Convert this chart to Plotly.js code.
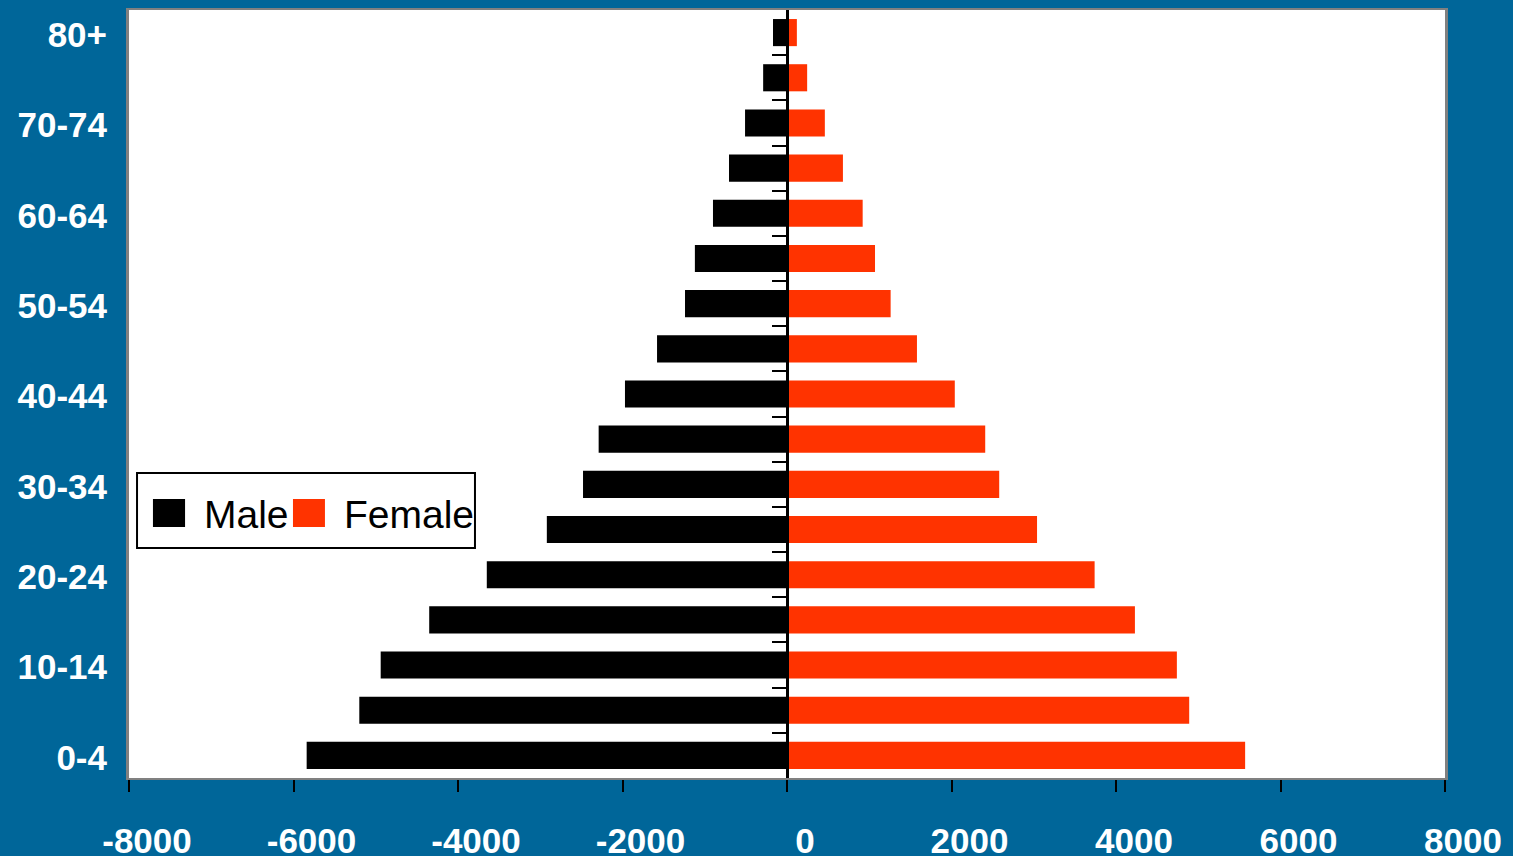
<!DOCTYPE html>
<html>
<head>
<meta charset="utf-8">
<script src="https://cdn.plot.ly/plotly-3.0.1.min.js"></script>
<style>
html,body{margin:0;padding:0;background:#006699;}
#chart{width:1513px;height:856px;}
</style>
</head>
<body>
<div id="chart"></div>
<script>
// Data
const ageGroups = ["0-4","5-9","10-14","15-19","20-24","25-29","30-34","35-39","40-44","45-49","50-54","55-59","60-64","65-69","70-74","75-79","80+"];
const maleValues = [5840, 5200, 4940, 4350, 3650, 2920, 2480, 2290, 1970, 1580, 1240, 1120, 900, 705, 510, 290, 170];
const femaleValues = [5570, 4890, 4740, 4230, 3740, 3040, 2580, 2410, 2040, 1580, 1260, 1070, 920, 680, 460, 245, 120];
const seriesNames = ["Male", "Female"];
const xTickValues = [-8000, -6000, -4000, -2000, 0, 2000, 4000, 6000, 8000];

const colors = ["#000000", "#FF3300"];
const fontFam = "'Liberation Sans', Arial, sans-serif";

const traces = [
  {
    type: "bar", orientation: "h", name: seriesNames[0],
    y: ageGroups, x: maleValues.map(v => -v),
    customdata: maleValues,
    hovertemplate: "%{y}: %{customdata}<extra>" + seriesNames[0] + "</extra>",
    marker: {color: colors[0]}, width: 0.6, showlegend: false
  },
  {
    type: "bar", orientation: "h", name: seriesNames[1],
    y: ageGroups, x: femaleValues,
    hovertemplate: "%{y}: %{x}<extra>" + seriesNames[1] + "</extra>",
    marker: {color: colors[1]}, width: 0.6, showlegend: false
  },
  // empty helper trace so the central axis (yaxis2) gets drawn
  {type: "scatter", mode: "markers", x: [], y: [], yaxis: "y2",
   hoverinfo: "skip", showlegend: false}
];

// manual legend (paper coords)
const L = {x0: 0.0061, x1: 0.2629, y0: 0.2995, y1: 0.3971};
const shapes = [
  {type: "rect", xref: "paper", yref: "paper", x0: L.x0, x1: L.x1, y0: L.y0, y1: L.y1,
   line: {color: "#000", width: 2}, fillcolor: "#fff", layer: "above"},
  {type: "rect", xref: "paper", yref: "paper", x0: 0.0182, x1: 0.0426, y0: 0.3268, y1: 0.3633,
   line: {width: 0}, fillcolor: colors[0], layer: "above"},
  {type: "rect", xref: "paper", yref: "paper", x0: 0.1246, x1: 0.1489, y0: 0.3268, y1: 0.3633,
   line: {width: 0}, fillcolor: colors[1], layer: "above"}
];
const annotations = [
  {xref: "paper", yref: "paper", x: 0.0555, y: 0.3430, xanchor: "left", yanchor: "middle",
   text: seriesNames[0], showarrow: false, font: {family: fontFam, size: 39, color: "#000"}},
  {xref: "paper", yref: "paper", x: 0.1618, y: 0.3430, xanchor: "left", yanchor: "middle",
   text: seriesNames[1], showarrow: false, font: {family: fontFam, size: 39, color: "#000"}}
];

const n = ageGroups.length;
const layout = {
  width: 1513, height: 856,
  paper_bgcolor: "#006699", plot_bgcolor: "#ffffff",
  margin: {l: 129, r: 68, t: 10, b: 78, pad: 0},
  barmode: "overlay",
  showlegend: false,
  font: {family: fontFam},
  xaxis: {
    range: [-8000, 8000], tickvals: xTickValues, ticktext: xTickValues.map(String),
    showgrid: false, zeroline: false,
    showline: true, linecolor: "#808080", linewidth: 2, mirror: true,
    ticks: "outside", ticklen: 12, tickwidth: 2, tickcolor: "#000",
    tickfont: {family: fontFam, size: 35, color: "#fff", weight: "bold"},
    ticklabelshift: 18, ticklabelstandoff: 19,
    layer: "above traces"
  },
  yaxis: {
    type: "category", categoryorder: "array", categoryarray: ageGroups,
    range: [-0.5, n - 0.5],
    tickvals: ageGroups.filter((_, i) => i % 2 === 0),
    showgrid: false, zeroline: false,
    showline: true, linecolor: "#808080", linewidth: 3, mirror: true,
    ticks: "", ticklabelstandoff: 12, ticklabelshift: 2,
    tickfont: {family: fontFam, size: 35, color: "#fff", weight: "bold"}
  },
  yaxis2: {
    overlaying: "y", anchor: "free", position: 0.5, side: "left",
    range: [-0.5, n - 0.5],
    tickvals: Array.from({length: n - 1}, (_, i) => i + 0.5),
    showticklabels: false, showgrid: false, zeroline: false,
    showline: true, linecolor: "#000", linewidth: 3,
    ticks: "outside", ticklen: 14, tickwidth: 2, tickcolor: "#000",
    layer: "above traces"
  },
  shapes: shapes,
  annotations: annotations
};

Plotly.newPlot("chart", traces, layout, {displayModeBar: false});
</script>
</body>
</html>
